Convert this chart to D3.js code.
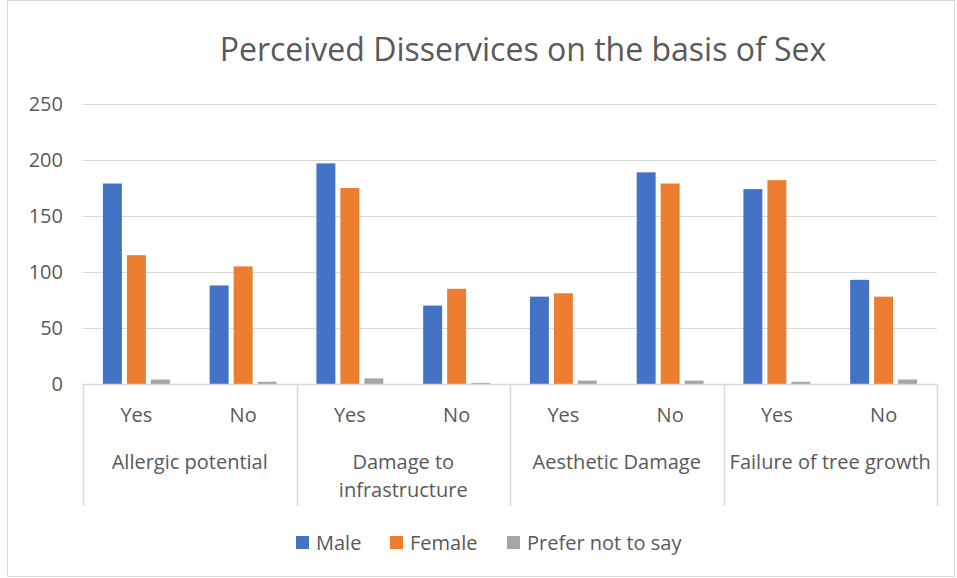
<!DOCTYPE html>
<html>
<head>
<meta charset="utf-8">
<script src="https://cdn.jsdelivr.net/npm/d3@7"></script>
<style>
  html, body { margin: 0; padding: 0; background: #fff; }
  svg { display: block; font-family: "Open Sans", "Liberation Sans", Arial, sans-serif; }
</style>
</head>
<body>
<svg id="chart" width="957" height="578"></svg>
<script>
// Groups of disservices and the Yes/No answers within each
const groups = ["Allergic potential", "Damage to infrastructure", "Aesthetic Damage", "Failure of tree growth"];
const answers = ["Yes", "No"];
const seriesNames = ["Male", "Female", "Prefer not to say"];
const seriesColors = ["#4472c4", "#ed7d31", "#a5a5a5"];

// Counts per group/answer, in order: Allergic Yes, No, Damage Yes, No, Aesthetic Yes, No, Failure Yes, No
const male   = [179, 88, 197, 70, 78, 189, 174, 93];
const female = [115, 105, 175, 85, 81, 179, 182, 78];
const preferNot = [4, 2, 5, 1, 3, 3, 2, 4];

const yTicks = [0, 50, 100, 150, 200, 250];

const svg = d3.select("#chart");
const W = 957, H = 578;
const margin = { left: 83, right: 20, top: 104 };
const plotW = W - margin.left - margin.right;
const plotBottom = 384;
const textColor = "#595959";
const labelSize = 20;

// Chart frame
svg.append("rect")
  .attr("x", 7.5).attr("y", 0.5).attr("width", 947).attr("height", 576)
  .attr("fill", "#fff").attr("stroke", "#d9d9d9").attr("stroke-width", 1);

// Title
svg.append("text")
  .attr("x", 523).attr("y", 61)
  .attr("text-anchor", "middle")
  .attr("font-size", 32)
  .attr("fill", textColor)
  .text("Perceived Disservices on the basis of Sex");

// Category keys
const cats = [];
groups.forEach((g, gi) => answers.forEach((a, ai) => cats.push({ key: gi + "-" + ai, group: g, answer: a, idx: gi * 2 + ai })));

const x = d3.scaleBand().domain(cats.map(c => c.key)).range([margin.left, margin.left + plotW]);
const y = d3.scaleLinear().domain([0, 250]).range([plotBottom, margin.top]);
const xGroup = d3.scaleBand().domain(groups).range([margin.left, margin.left + plotW]);

// Gridlines
svg.append("g").selectAll("line").data(yTicks.filter(t => t > 0)).join("line")
  .attr("x1", margin.left).attr("x2", margin.left + plotW)
  .attr("y1", d => Math.round(y(d)) + 0.5).attr("y2", d => Math.round(y(d)) + 0.5)
  .attr("stroke", "#d9d9d9").attr("stroke-width", 1.2);

// Y axis labels
const yAxis = d3.axisLeft(y).tickValues(yTicks).tickSize(0).tickPadding(0);
const yg = svg.append("g").attr("transform", `translate(${margin.left - 20},0)`).call(yAxis);
yg.select(".domain").remove();
yg.selectAll("text").attr("font-size", labelSize).attr("fill", textColor)
  .attr("font-family", "Open Sans, Liberation Sans, Arial, sans-serif");

// Bars
const inner = d3.scaleBand().domain(seriesNames).range([0, x.bandwidth()]).paddingInner(0.21).paddingOuter(0.83);
const seriesData = [male, female, preferNot];

seriesNames.forEach((s, si) => {
  svg.append("g").selectAll("rect").data(cats).join("rect")
    .attr("x", c => x(c.key) + inner(s))
    .attr("width", inner.bandwidth())
    .attr("y", c => y(seriesData[si][c.idx]))
    .attr("height", c => y(0) - y(seriesData[si][c.idx]))
    .attr("fill", seriesColors[si]);
});

// Category axis line and group separators
const axisColor = "#d9d9d9";
svg.append("line")
  .attr("x1", margin.left).attr("x2", margin.left + plotW)
  .attr("y1", plotBottom + 0.5).attr("y2", plotBottom + 0.5)
  .attr("stroke", axisColor).attr("stroke-width", 1.5);

const seps = groups.map(g => xGroup(g)).concat([margin.left + plotW]);
svg.append("g").selectAll("line").data(seps).join("line")
  .attr("x1", d => Math.round(d) + 0.5).attr("x2", d => Math.round(d) + 0.5)
  .attr("y1", plotBottom).attr("y2", 506)
  .attr("stroke", axisColor).attr("stroke-width", 1.5);

// Answer labels
svg.append("g").selectAll("text").data(cats).join("text")
  .attr("x", c => x(c.key) + x.bandwidth() / 2)
  .attr("y", 422)
  .attr("text-anchor", "middle")
  .attr("font-size", labelSize).attr("fill", textColor)
  .text(c => c.answer);

// Group labels, wrapped to the group width
const gText = svg.append("g").selectAll("text").data(groups).join("text")
  .attr("x", g => xGroup(g) + xGroup.bandwidth() / 2)
  .attr("y", 469)
  .attr("text-anchor", "middle")
  .attr("font-size", labelSize).attr("fill", textColor);

gText.each(function (g) {
  const t = d3.select(this);
  const maxW = xGroup.bandwidth() + 2;
  const words = g.split(" ");
  let line = [];
  const lines = [];
  const probe = t.append("tspan");
  words.forEach(w => {
    const test = line.concat([w]).join(" ");
    probe.text(test);
    if (probe.node().getComputedTextLength() > maxW && line.length) {
      lines.push(line.join(" "));
      line = [w];
    } else {
      line.push(w);
    }
  });
  lines.push(line.join(" "));
  probe.remove();
  const cx = +t.attr("x");
  lines.forEach((l, i) => {
    t.append("tspan").attr("x", cx).attr("dy", i === 0 ? 0 : 28).text(l);
  });
});

// Legend
const legendX = [296, 390, 507];
const lg = svg.append("g").selectAll("g").data(seriesNames).join("g")
  .attr("transform", (d, i) => `translate(${legendX[i]},536)`);
lg.append("rect").attr("width", 13).attr("height", 13).attr("fill", (d, i) => seriesColors[i]);
lg.append("text").attr("x", 20).attr("y", 14)
  .attr("font-size", labelSize).attr("fill", textColor).text(d => d);
</script>
</body>
</html>
